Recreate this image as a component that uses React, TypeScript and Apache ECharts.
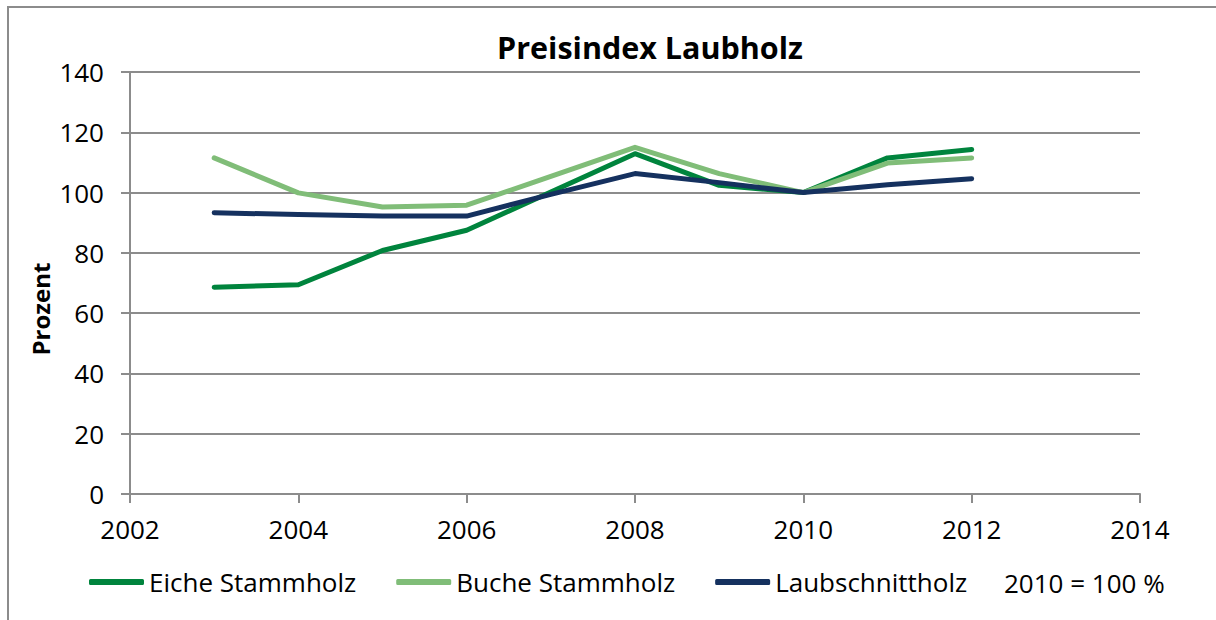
import React, { useEffect, useRef } from "react";
import * as echarts from "echarts";

const years = [2003, 2004, 2005, 2006, 2007, 2008, 2009, 2010, 2011, 2012];
const eiche = [68.6, 69.4, 80.8, 87.5, 100.2, 112.9, 102.4, 100, 111.5, 114.3];
const buche = [111.5, 99.9, 95.2, 95.8, 105.4, 115.0, 106.3, 100, 109.8, 111.5];
const laub = [93.3, 92.7, 92.2, 92.2, 99.4, 106.3, 103.3, 100, 102.6, 104.6];
const seriesNames = ["Eiche Stammholz", "Buche Stammholz", "Laubschnittholz"];
const seriesColors = ["#00843d", "#80bd78", "#15315f"];
const titleText = "Preisindex Laubholz";
const yAxisName = "Prozent";
const noteText = "2010 = 100 %";

const FONT = "'Open Sans', 'DejaVu Sans', sans-serif";

export default function App() {
  const ref = useRef<HTMLDivElement>(null);
  useEffect(() => {
    if (!ref.current) return;
    const chart = echarts.init(ref.current, null, { renderer: "svg" });
    const all = [eiche, buche, laub];
    chart.setOption({
      animation: false,
      backgroundColor: "#ffffff",
      textStyle: { fontFamily: FONT },
      grid: { left: 130, top: 72, right: 76, bottom: 126, containLabel: false },
      xAxis: {
        type: "value",
        min: 2002,
        max: 2014,
        interval: 2,
        axisLine: { show: true, lineStyle: { color: "#8c8c8c", width: 2 } },
        axisTick: { show: true, length: 9, lineStyle: { color: "#8c8c8c", width: 2 } },
        splitLine: { show: false },
        axisLabel: { color: "#000", fontSize: 26, fontFamily: FONT, margin: 22, formatter: (v: number) => String(v) },
      },
      yAxis: {
        type: "value",
        min: 0,
        max: 140,
        interval: 20,
        axisLine: { show: true, lineStyle: { color: "#8c8c8c", width: 2 } },
        axisTick: { show: true, length: 9, lineStyle: { color: "#8c8c8c", width: 2 } },
        splitLine: { show: true, lineStyle: { color: "#8c8c8c", width: 2 } },
        axisLabel: { color: "#000", fontSize: 26, fontFamily: FONT, margin: 26 },
      },
      legend: {
        left: 89,
        top: 569,
        padding: 0,
        icon: "roundRect",
        itemWidth: 55,
        itemHeight: 6,
        itemGap: 40,
        textStyle: { color: "#000", fontSize: 26, fontFamily: FONT },
        data: seriesNames,
      },
      graphic: [
        {
          type: "rect",
          shape: { x: 8, y: 7, width: 1400, height: 800 },
          style: { fill: "none", stroke: "#8c8c8c", lineWidth: 2 },
          silent: true,
        },
        {
          type: "text",
          x: 650,
          y: 47,
          style: {
            text: titleText,
            fill: "#000",
            font: `bold 30.5px ${FONT}`,
            textAlign: "center",
            textVerticalAlign: "middle",
          },
        },
        {
          type: "text",
          x: 40,
          y: 309,
          rotation: Math.PI / 2,
          style: {
            text: yAxisName,
            fill: "#000",
            font: `bold 24px ${FONT}`,
            textAlign: "center",
            textVerticalAlign: "middle",
          },
        },
        {
          type: "text",
          x: 1004,
          y: 583,
          style: {
            text: noteText,
            fill: "#000",
            font: `26px ${FONT}`,
            textAlign: "left",
            textVerticalAlign: "middle",
          },
        },
      ],
      series: seriesNames.map((name, i) => ({
        name,
        type: "line",
        showSymbol: false,
        symbol: "none",
        color: seriesColors[i],
        lineStyle: { color: seriesColors[i], width: 5, cap: "round", join: "round" },
        data: years.map((y, j) => [y, all[i][j]]),
      })),
    });
    return () => chart.dispose();
  }, []);
  return (
    <div
      ref={ref}
      style={{ position: "fixed", left: 0, top: 0, width: 1216, height: 620 }}
    />
  );
}
